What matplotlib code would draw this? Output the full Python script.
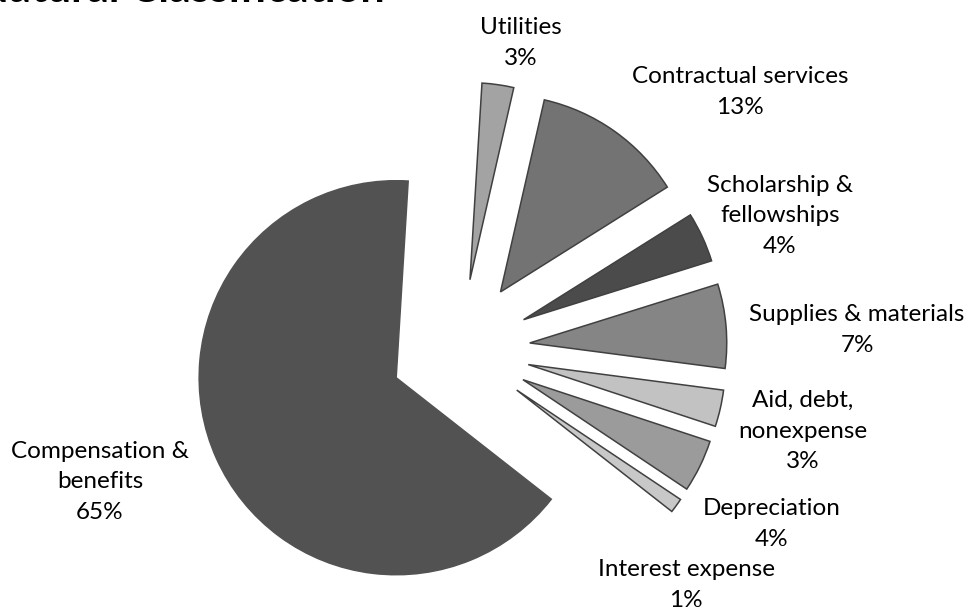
import matplotlib.pyplot as plt

# data (share of expenses, %)
categories = ['Utilities', 'Contractual services', 'Scholarship &\nfellowships',
              'Supplies & materials', 'Aid, debt,\nnonexpense', 'Depreciation',
              'Interest expense', 'Compensation &\nbenefits']
values = [2.6, 12.5, 4.1, 6.9, 3.0, 4.3, 1.2, 65.4]
pct_labels = ['3%', '13%', '4%', '7%', '3%', '4%', '1%', '65%']

colors = ['#a3a3a3', '#737373', '#4b4b4b', '#858585',
          '#c2c2c2', '#9b9b9b', '#c8c8c8', '#525252']

# label anchors in image pixels (x, y from top)
label_pos = [(521, 43), (740, 92), (780, 216), (857, 330),
             (803, 431), (772, 524), (686, 585), (100, 482)]

W, H = 971, 609
fig = plt.figure(figsize=(W / 100, H / 100), dpi=100)
ax = fig.add_axes([0, 0, 1, 1])

radius = 197
center = (460, H - 349)
# explode is in data units here (pixels), since radius is not 1
wedges, _ = ax.pie(values, colors=colors, startangle=86.5, counterclock=False,
                   radius=radius, center=center, explode=[70] * len(values),
                   wedgeprops=dict(edgecolor='#404040', linewidth=1.1))
# the big slice has no dark outline
wedges[-1].set_edgecolor(colors[-1])

ax.set_xlim(0, W)
ax.set_ylim(0, H)
ax.set_aspect('equal')
ax.axis('off')

for cat, pct, (x, y) in zip(categories, pct_labels, label_pos):
    ax.text(x, H - y, cat + '\n' + pct, ha='center', va='center',
            fontsize=17.5, family='Lato', color='#000000', linespacing=1.55)

# title is cropped at the top edge of the picture
ax.text(385, H - 2, 'Natural Classification', ha='right', va='baseline',
        fontsize=31, fontweight='bold', family='Lato', color='#000000')

fig.savefig('out.png', dpi=100)
